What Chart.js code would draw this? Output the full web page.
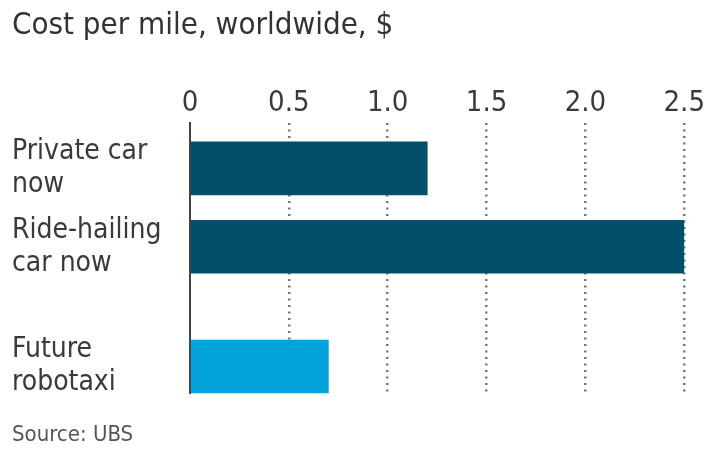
<!DOCTYPE html>
<html>
<head>
<meta charset="utf-8">
<title>Cost per mile, worldwide</title>
<script src="https://cdn.jsdelivr.net/npm/chart.js@4.4.1/dist/chart.umd.min.js"></script>
<style>
  html, body { margin: 0; padding: 0; background: #fff; }
  #wrap { width: 707px; height: 450px; }
</style>
</head>
<body>
<div id="wrap"><canvas id="costChart" width="707" height="450"></canvas></div>
<script>
// Cost per mile by mode of transport
const categories = [['Private car', 'now'], ['Ride-hailing', 'car now'], ['Future', 'robotaxi']];
const groups = ['now', 'now', 'future'];
const costs = [1.2, 2.5, 0.7];
const xTicks = [0, 0.5, 1.0, 1.5, 2.0, 2.5];

const FONT = '"Liberation Sans Narrow", "DejaVu Sans Condensed", sans-serif';
const groupColors = { now: '#024f6b', future: '#03a4dc' };
const groupGap = 0.53; // extra space between "now" and "future" rows

// row position for each bar: one unit per row, plus a gap where the group changes
const rows = [];
categories.forEach((c, i) => {
    let pos = i;
    for (let j = 1; j <= i; j++) {
        if (groups[j] !== groups[j - 1]) pos += groupGap;
    }
    rows.push(pos);
});

const ctx = document.getElementById('costChart').getContext('2d');

const chart = new Chart(ctx, {
    type: 'bar',
    data: {
        datasets: [{
            data: costs.map((v, i) => ({ x: v, y: rows[i] })),
            backgroundColor: groups.map(g => groupColors[g]),
            borderWidth: 0,
            barThickness: 53
        }]
    },
    options: {
        indexAxis: 'y',
        responsive: false,
        animation: false,
        layout: {
            padding: { left: 12, right: 21, top: 0, bottom: 0 }
        },
        scales: {
            x: {
                type: 'linear',
                position: 'top',
                min: 0,
                max: 2.5,
                afterBuildTicks: (scale) => {
                    scale.ticks = xTicks.map(v => ({ value: v }));
                },
                ticks: {
                    font: { family: FONT, size: 29 },
                    color: '#3a3a3a',
                    padding: 2,
                    callback: (v) => v === 0 ? '0' : v.toFixed(1)
                },
                grid: {
                    drawTicks: false,
                    lineWidth: 2.5,
                    color: (c) => c.tick && c.tick.value === 0 ? 'rgba(0,0,0,0)' : '#777'
                },
                border: { display: false, dash: [2, 4.5] }
            },
            y: {
                type: 'linear',
                reverse: true,
                offset: false,
                min: -0.58,
                max: 2.875,
                afterBuildTicks: (scale) => {
                    scale.ticks = rows.map(v => ({ value: v }));
                },
                afterFit: (scale) => {
                    scale.width = 178;
                },
                ticks: {
                    crossAlign: 'far',
                    font: { family: FONT, size: 28, lineHeight: 1.18 },
                    color: '#3a3a3a',
                    callback: (v) => categories[rows.indexOf(v)]
                },
                grid: { display: false, drawTicks: false },
                border: { display: true, color: '#444', width: 2 }
            }
        },
        plugins: {
            legend: { display: false },
            tooltip: { enabled: false },
            title: {
                display: true,
                text: 'Cost per mile, worldwide, $',
                align: 'start',
                color: '#333',
                font: { family: FONT, size: 31, weight: 'normal' },
                padding: { top: 7, bottom: 40 }
            },
            subtitle: {
                display: true,
                text: 'Source: UBS',
                position: 'bottom',
                align: 'start',
                color: '#555',
                font: { family: FONT, size: 22 },
                padding: { top: 28, bottom: 2 }
            }
        }
    }
});
</script>
</body>
</html>
